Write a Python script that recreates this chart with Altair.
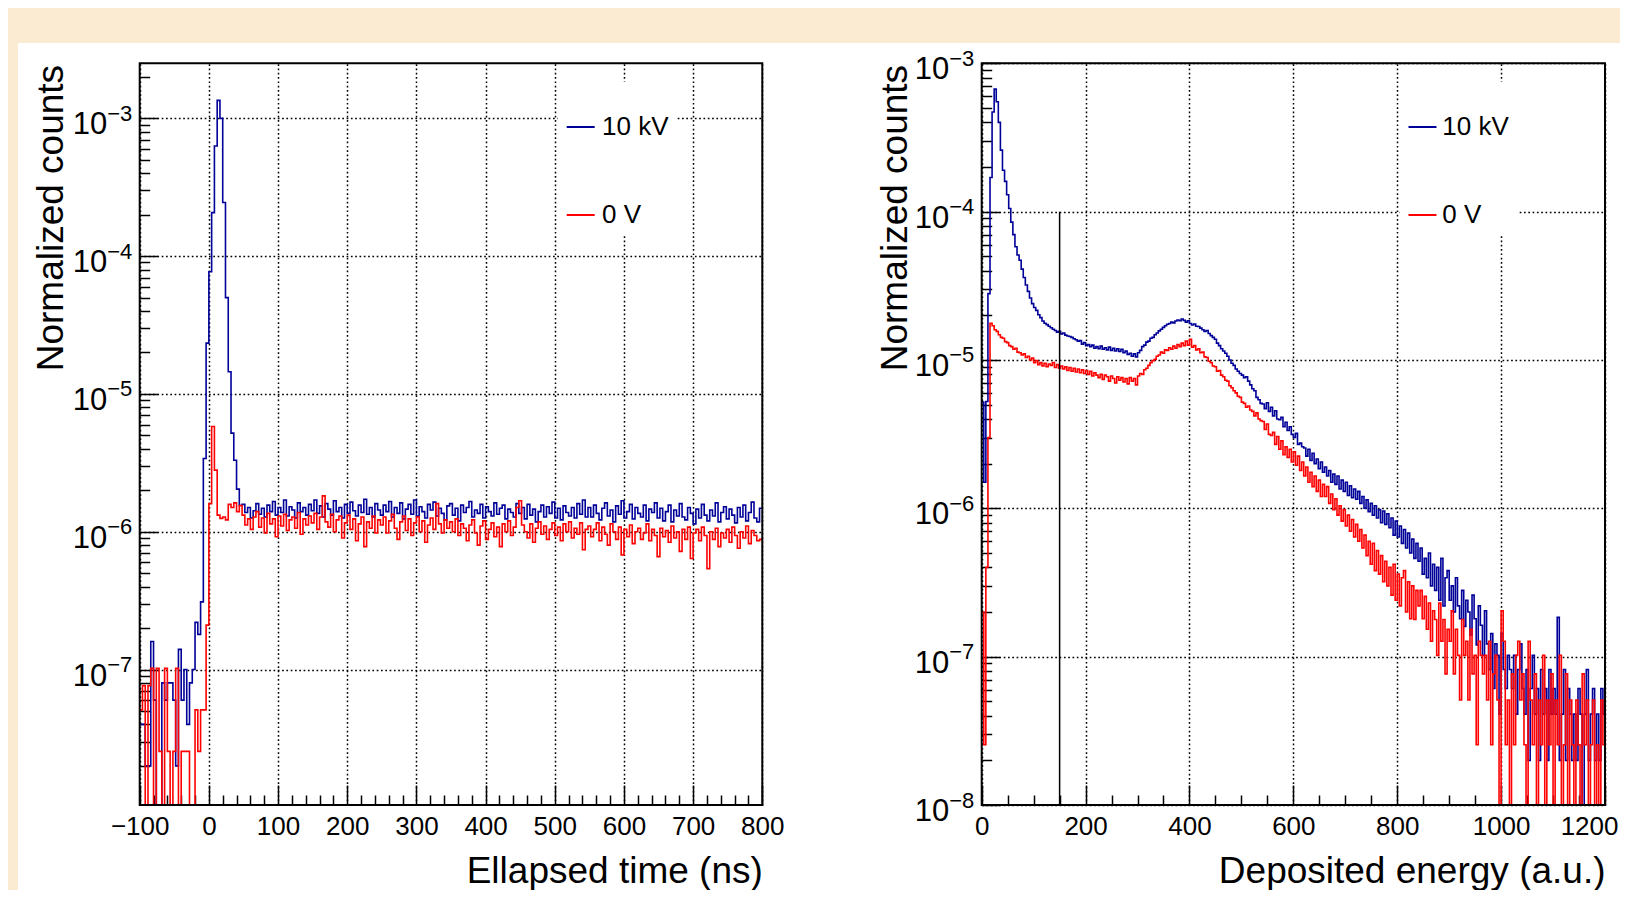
import altair as alt
import pandas as pd

FONT = "Liberation Sans, Arimo, Helvetica, Arial, sans-serif"
BEIGE = "#FAEBD2"

# overall geometry (plot area = white region); the white area runs past the bottom edge
W, H = 1602, 852
PAD_LEFT, PAD_TOP, PAD_BOTTOM = 10, 35, -5
FRAME_TOP, FRAME_BOTTOM = 20.3, 762.0

series_names = ["10 kV", "0 V"]
series_colors = ["#000099", "#FF0000"]

# ---------------- left panel: elapsed time ----------------
time_first_edge = -100
time_bin_width = 4
time_domain = [-100, 800]
time_count_domain = [1.04e-8, 2.51e-3]
time_major = [-100, 0, 100, 200, 300, 400, 500, 600, 700, 800]
time_range_px = [121.7, 744.3]

# normalized counts in units of 1e-8, one value per 4 ns bin
time_blue_e8 = [
    4, 4, 2, 2, 16, 6, 0, 0, 8, 6, 8, 8, 6, 2, 14, 6, 10, 4, 8, 10, 22, 18, 31,
    340, 2340, 7700, 20700, 63000, 135000, 100000, 24500, 5000, 1450, 520, 330, 204, 155,
    158, 138, 150, 126, 142, 160, 134, 148, 128, 156, 140, 166, 132, 150, 138, 170, 130, 152, 144, 126, 162, 140, 150, 132, 158,
    142, 170, 136, 154, 128, 160, 146, 132, 168, 140, 150, 126, 158, 136, 164, 142, 130, 156, 138, 172, 134, 150, 128, 160, 144,
    132, 156, 140, 166, 128, 150, 136, 162, 124, 146, 158, 134, 170, 130, 152, 140, 126, 158, 144, 164, 130, 148, 136, 122, 154,
    160, 132, 148, 120, 156, 138, 150, 166, 128, 144, 136, 158, 126, 152, 140, 130, 162, 134, 148, 156, 124, 146, 138, 128, 160,
    136, 150, 124, 158, 132, 146, 118, 140, 156, 128, 152, 136, 164, 126, 148, 122, 154, 138, 130, 150, 126, 160, 134, 170, 128,
    150, 128, 156, 136, 122, 148, 162, 130, 144, 118, 154, 134, 168, 126, 140, 158, 124, 150, 136, 128, 156, 120, 146, 138, 162,
    126, 148, 120, 140, 156, 118, 144, 130, 160, 128, 122, 150, 136, 114, 146, 126, 158, 132, 120, 144, 130, 162, 118, 138, 152,
    124, 146, 132, 116, 150, 128, 156, 120, 138, 164, 126, 118, 148,
]
time_red_e8 = [
    5.1, 7.65, 0, 7.65, 10.2, 0, 10.2, 2.55, 0, 10.2, 2.55, 0, 2.55, 10.2, 0, 2.55, 2.55, 2.55, 0, 0, 5.1, 2.55, 5.1,
    5.1, 21, 160, 580, 280, 132, 125, 128, 122, 158, 150, 162, 140, 155,
    132, 112, 124, 104, 128, 140, 108, 126, 98, 136, 114, 124, 92, 130, 110, 134, 102, 122, 128, 106, 138, 96, 124, 112, 130,
    116, 136, 104, 128, 182, 118, 108, 134, 100, 122, 130, 90, 116, 132, 104, 124, 86, 114, 128, 78, 118, 106, 130, 98, 122,
    112, 128, 98, 120, 134, 106, 88, 118, 130, 102, 124, 94, 116, 128, 100, 120, 84, 112, 126, 104, 160, 114, 98, 122, 106,
    118, 100, 124, 94, 114, 106, 86, 112, 122, 98, 80, 110, 120, 88, 104, 116, 92, 108, 78, 114, 100, 120, 94, 108, 150,
    168, 112, 100, 90, 114, 84, 106, 118, 96, 110, 88, 104, 116, 94, 108, 86, 114, 100, 118, 90, 106, 96, 116, 74, 104,
    110, 92, 104, 116, 86, 108, 96, 80, 114, 100, 88, 108, 68, 104, 92, 112, 82, 100, 106, 88, 98, 114, 86, 104, 94,
    66, 106, 92, 102, 84, 110, 90, 100, 72, 104, 88, 108, 64, 98, 104, 86, 108, 94, 54, 100, 88, 106, 78, 98, 90,
    104, 84, 108, 94, 76, 100, 90, 110, 82, 102, 94, 86, 88,
]

# ---------------- right panel: deposited energy ----------------
energy_first_edge = 0
energy_bin_width = 4
energy_domain = [0, 1200]
energy_count_domain = [1e-8, 1e-3]
energy_major = [0, 200, 400, 600, 800, 1000, 1200]
energy_range_px = [963.7, 1587.0]
cut_energy = [150]
cut_count_range = [1e-8, 1e-4]

energy_blue_e8 = [
    520, 150, 525, 2800, 17000, 47000, 67000, 55000, 40000, 26000, 19000, 16000, 13000, 10500, 8500,
    7000, 5800, 5100, 4700, 4100, 3600, 3200, 2900, 2620, 2400, 2260, 2160, 2020, 1930, 1830,
    1770, 1730, 1690, 1650, 1610, 1580, 1540, 1560, 1500, 1520, 1470, 1450, 1440, 1420, 1390,
    1370, 1340, 1350, 1280, 1310, 1250, 1270, 1230, 1260, 1200, 1230, 1190, 1240, 1180, 1210,
    1170, 1220, 1160, 1200, 1150, 1190, 1140, 1180, 1120, 1150, 1090, 1110, 1060, 1100, 1050,
    1120, 1160, 1230, 1260, 1320, 1340, 1400, 1420, 1480, 1520, 1570, 1610, 1660, 1700, 1740,
    1760, 1800, 1780, 1830, 1860, 1840, 1890, 1850, 1800, 1840, 1760, 1720, 1750, 1690, 1680,
    1640, 1600, 1560, 1580, 1510, 1460, 1420, 1380, 1300, 1250, 1190, 1150, 1110, 1060, 1000,
    950, 920, 870, 840, 810, 790, 760, 770, 720, 680, 640, 620, 560, 540, 510,
    505, 470, 515, 450, 480, 420, 455, 400, 395, 410, 355, 380, 335, 355, 315,
    300, 320, 270, 275, 260, 255, 225, 250, 210, 235, 200, 215, 185, 205, 175,
    190, 165, 180, 150, 170, 145, 165, 135, 155, 130, 150, 122, 142, 118, 135,
    115, 130, 108, 120, 100, 114, 95, 108, 90, 104, 86, 98, 80, 96, 78,
    92, 74, 86, 66, 82, 64, 76, 58, 72, 54, 68, 50, 62, 46, 58,
    44, 54, 36, 46, 34, 50, 30, 42, 28, 40, 24, 46, 22, 34, 38,
    24, 30, 20, 34, 22, 18, 28, 16, 24, 20, 14, 26, 18, 12, 22,
    16.3, 10.2, 20.4, 12.2, 8.2, 14.3, 6.1, 12.2, 10.2, 4.1, 14.3, 8.2, 6.1, 10.2, 8.2,
    6.1, 10.2, 4.1, 8.2, 12.2, 6.1, 4.1, 8.2, 2.0, 6.1, 10.2, 4.1, 6.1, 2.0, 8.2,
    4.1, 6.1, 2.0, 8.2, 4.1, 6.1, 4.1, 18.4, 2.0, 4.1, 8.2, 2.0, 6.1, 4.1, 2.0,
    4.1, 2.0, 6.1, 4.1, 0, 4.1, 8.2, 2.0, 4.1, 6.1, 2.0, 4.1, 2.0, 6.1, 4.1,
]
energy_red_e8 = [
    20, 2.55, 40, 300, 1770, 1700, 1600, 1560, 1480, 1420, 1400, 1330, 1310, 1250, 1230,
    1180, 1200, 1130, 1120, 1080, 1100, 1040, 1060, 1000, 1030, 960, 990, 930, 960, 910,
    950, 900, 940, 920, 960, 890, 930, 880, 910, 870, 900, 850, 890, 840, 880,
    830, 870, 820, 860, 810, 850, 800, 840, 780, 820, 790, 760, 800, 740, 790,
    770, 720, 780, 750, 700, 770, 730, 760, 710, 750, 690, 760, 720, 750, 680,
    780, 810, 800, 860, 880, 920, 960, 990, 1010, 1060, 1080, 1130, 1110, 1170, 1160,
    1210, 1180, 1240, 1200, 1270, 1230, 1300, 1250, 1340, 1260, 1380, 1220, 1250, 1170, 1190,
    1120, 1130, 1050, 1040, 980, 960, 910, 900, 840, 850, 790, 770, 730, 720, 670,
    650, 620, 600, 570, 560, 520, 510, 480, 490, 460, 450, 420, 440, 400, 390,
    385, 340, 370, 315, 310, 325, 270, 305, 250, 285, 230, 260, 220, 250, 205,
    240, 195, 225, 180, 205, 165, 190, 150, 175, 140, 165, 130, 155, 120, 145,
    120, 140, 108, 125, 98, 116, 90, 104, 82, 98, 76, 90, 70, 84, 64,
    78, 60, 72, 54, 66, 48, 60, 42, 58, 38, 52, 36, 48, 32, 44,
    30, 40, 26, 42, 24, 36, 22, 34, 38, 20, 32, 18, 30, 17.8, 28,
    22, 28, 18, 25.5, 15.3, 23, 12.7, 20.4, 17.8, 10.2, 23, 12.7, 17.8, 7.65, 15.3,
    12.7, 20.4, 7.65, 15.3, 10.2, 5.1, 17.8, 10.2, 12.7, 5.1, 15.3, 7.65, 10.2, 2.55, 12.7,
    10.2, 7.65, 10.2, 5.1, 12.7, 2.55, 7.65, 10.2, 5.1, 0, 20.4, 12.7, 2.55, 5.1, 0,
    7.65, 2.55, 10.2, 12.7, 5.1, 7.65, 2.55, 0, 12.7, 5.1, 2.55, 7.65, 0, 5.1, 2.55,
    10.2, 0, 5.1, 2.55, 7.65, 0, 5.1, 2.55, 10.2, 0, 2.55, 7.65, 0, 5.1, 2.55,
    0, 5.1, 2.55, 0, 7.65, 2.55, 5.1, 0, 2.55, 5.1, 0, 2.55, 0, 5.1, 2.55,
]

assert len(time_blue_e8) == 225 and len(time_red_e8) == 225
assert len(energy_blue_e8) == 300 and len(energy_red_e8) == 300


def step_frame(first_edge, width, vals_e8, name, floor):
    """Histogram as step points: left bin edges plus the closing right edge."""
    n = len(vals_e8)
    edges = [first_edge + width * i for i in range(n + 1)]
    vals = [max(v * 1e-8, floor) for v in vals_e8]  # empty bins drawn down to the frame
    vals.append(vals[-1])
    return pd.DataFrame({"x": edges, "v": vals, "series": name})


def log_ticks(dom):
    out = []
    for e in range(-10, 0):
        for m in range(1, 10):
            v = float(f"{m}e{e}")
            if dom[0] * 0.999 <= v <= dom[1] * 1.001:
                out.append(v)
    return out


def decades(dom):
    return [float(f"1e{e}") for e in range(-10, 0) if dom[0] * 0.999 <= float(f"1e{e}") <= dom[1] * 1.001]


GRID = dict(gridColor="black", gridDash=[1.7, 2.6], gridWidth=1.5, gridOpacity=1)
MAJOR_LOG_TEST = "abs(log(datum.value)/LN10 - round(log(datum.value)/LN10)) < 0.001"


def panel(blue_vals, red_vals, first_edge, bin_w, xdom, ydom, xrng, xmaj, xstep_major,
          xstep_minor, xtitle, ytitle_x, legend_x, legend_label_offset, extra=None,
          edge_label_shift=0):
    xs = alt.Scale(domain=xdom, range=xrng, nice=False, zero=False)
    ys = alt.Scale(type="log", domain=ydom, range=[FRAME_BOTTOM, FRAME_TOP], nice=False)
    cs = alt.Scale(domain=series_names, range=series_colors)

    leg = alt.Legend(
        orient="none", legendX=legend_x, legendY=39, title="\u00a0", titleFontSize=16,
        titlePadding=6, fillColor="white", padding=8, symbolType="stroke", symbolSize=784,
        symbolStrokeWidth=2, labelFontSize=26, labelOffset=legend_label_offset, rowPadding=60,
        labelLimit=400,
        labelExpr="datum.label + '\u00a0\u00a0\u00a0\u00a0\u00a0\u00a0\u00a0'",
    )

    ymaj = decades(ydom)
    x_all = list(range(xdom[0], xdom[1] + 1, xstep_minor))

    # the last x label sits at the page edge: keep it whole by right-aligning it there
    last_test = f"datum.value == {xdom[1]}"
    if edge_label_shift:
        label_align = {"condition": {"test": last_test, "value": "right"}, "value": "center"}
        label_offset = {"condition": {"test": last_test, "value": edge_label_shift}, "value": 0}
    else:
        label_align = "center"
        label_offset = 0

    x_main = alt.Axis(
        orient="bottom", offset=FRAME_BOTTOM - H, values=xmaj, format="d", grid=False,
        ticks=False, tickSize=0, domain=False, labelFontSize=26, labelPadding=29.5,
        labelBaseline="alphabetic", labelFlush=False, labelOverlap=False,
        labelAlign=label_align, labelOffset=label_offset,
        title=xtitle, titleFontSize=37, titleFontWeight="normal", titleAlign="right",
        titleBaseline="alphabetic", titleX=xrng[1], titleY=77, titleAngle=0,
    )
    y_main = alt.Axis(
        orient="left", offset=-xrng[0], values=ymaj, grid=True, **GRID,
        ticks=False, tickSize=0, domain=False, labelExpr="'10'", labelFontSize=31,
        labelAlign="right", labelBaseline="alphabetic", labelOffset=15.5, labelPadding=33,
        labelFlush=False, labelOverlap=False,
        title="Normalized counts", titleFontSize=37, titleFontWeight="normal",
        titleAngle=270, titleAlign="right", titleBaseline="alphabetic",
        titleX=ytitle_x, titleY=21.4,
    )
    x_grid = alt.Axis(
        orient="top", offset=-FRAME_BOTTOM, values=xmaj, grid=True, **GRID,
        ticks=False, labels=False, domain=False, title=None,
    )
    y_exp = alt.Axis(
        orient="left", offset=-xrng[0], values=ymaj, grid=False, ticks=False, tickSize=0,
        domain=False, labelExpr="'\u2212' + round(-log(datum.value) / LN10)",
        labelFontSize=22, labelAlign="left", labelBaseline="alphabetic", labelOffset=2,
        labelPadding=33, labelFlush=False, labelOverlap=False, title=None,
    )
    x_ticks = alt.Axis(
        orient="top", offset=-FRAME_BOTTOM, values=x_all, grid=False, labels=False,
        domain=False, ticks=True, tickColor="black", tickWidth=1.5,
        tickSize={"condition": {"test": f"abs(datum.value % {xstep_major}) < 0.001", "value": 20}, "value": 10},
        title=None,
    )
    y_ticks = alt.Axis(
        orient="right", offset=xrng[0] - W, values=log_ticks(ydom), grid=False, labels=False,
        domain=False, ticks=True, tickColor="black", tickWidth=1.5,
        tickSize={"condition": {"test": MAJOR_LOG_TEST, "value": 18}, "value": 10},
        title=None,
    )

    blue_df = step_frame(first_edge, bin_w, blue_vals, series_names[0], ydom[0])
    red_df = step_frame(first_edge, bin_w, red_vals, series_names[1], ydom[0])

    blue = alt.Chart(blue_df).mark_line(interpolate="step-after", strokeWidth=1.6).encode(
        x=alt.X("x:Q", scale=xs, axis=x_main),
        y=alt.Y("v:Q", scale=ys, axis=y_main),
        color=alt.Color("series:N", scale=cs, legend=leg),
    )
    red = alt.Chart(red_df).mark_line(interpolate="step-after", strokeWidth=1.6).encode(
        x=alt.X("x:Q", scale=xs, axis=x_grid),
        y=alt.Y("v:Q", scale=ys, axis=y_exp),
        color=alt.Color("series:N", scale=cs, legend=leg),
    )
    layers = [blue, red]
    if extra is not None:
        layers.append(extra(xs, ys))

    frame_df = pd.DataFrame({"x0": [xdom[0]], "x1": [xdom[1]], "y0": [ydom[0]], "y1": [ydom[1]]})
    frame = alt.Chart(frame_df).mark_rect(fillOpacity=0, stroke="black", strokeWidth=2).encode(
        x=alt.X("x0:Q", scale=xs, axis=x_ticks),
        x2="x1:Q",
        y=alt.Y("y0:Q", scale=ys, axis=y_ticks),
        y2="y1:Q",
    )
    layers.append(frame)
    return alt.layer(*layers).resolve_axis(x="independent", y="independent")


def cut_line(xs, ys):
    df = pd.DataFrame({"x": cut_energy, "y0": [cut_count_range[0]], "y1": [cut_count_range[1]]})
    return alt.Chart(df).mark_rule(color="black", strokeWidth=1.5).encode(
        x=alt.X("x:Q", scale=xs, axis=None),
        y=alt.Y("y0:Q", scale=ys, axis=None),
        y2="y1:Q",
    )


left = panel(time_blue_e8, time_red_e8, time_first_edge, time_bin_width, time_domain,
             time_count_domain, time_range_px, time_major, 100, 20,
             "Ellapsed time (ns)", -77.0, 539.7, 6.3)
right = panel(energy_blue_e8, energy_red_e8, energy_first_edge, energy_bin_width, energy_domain,
              energy_count_domain, energy_range_px, energy_major, 200, 50,
              "Deposited energy (a.u.)", -75.0, 1381.5, 4.8, extra=cut_line,
              edge_label_shift=13)

chart = (
    alt.layer(left, right)
    .resolve_scale(x="independent", y="independent", color="independent")
    .resolve_axis(x="independent", y="independent")
    .resolve_legend(color="independent")
    .properties(
        width=W, height=H,
        padding={"left": PAD_LEFT, "top": PAD_TOP, "right": 0, "bottom": PAD_BOTTOM},
        autosize=alt.AutoSizeParams(type="none"),
        background=BEIGE,
    )
    .configure_view(fill="white", strokeWidth=0)
    .configure_axis(labelFont=FONT, titleFont=FONT, labelColor="black", titleColor="black")
    .configure_legend(labelFont=FONT, titleFont=FONT, labelColor="black")
)

chart.save("out.html", embed_options={"renderer": "svg", "actions": False})
